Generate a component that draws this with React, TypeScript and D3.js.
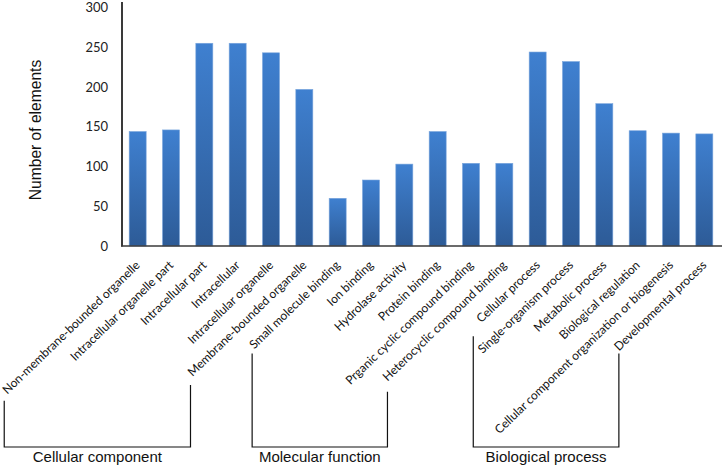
import React, { useEffect, useRef } from "react";
import * as d3 from "d3";

const categories = [
  "Non-membrane-bounded organelle",
  "Intracellular organelle part",
  "Intracellular part",
  "Intracellular",
  "Intracellular organelle",
  "Membrane-bounded organelle",
  "Small molecule binding",
  "Ion binding",
  "Hydrolase activity",
  "Protein binding",
  "Prganic cyclic compound binding",
  "Heterocyclic compound binding",
  "Cellular process",
  "Single-organism process",
  "Metabolic process",
  "Biological regulation",
  "Cellular component organization or biogenesis",
  "Developmental process",
];
const values = [144, 146, 255, 255, 243, 197, 60, 83, 103, 144, 104, 104, 244, 232, 179, 145, 142, 141];
const yTicks = [0, 50, 100, 150, 200, 250, 300];
const groupNames = ["Cellular component", "Molecular function", "Biological process"];
const groupFirst = [0, 6, 12];
const groupLast = [5, 11, 17];
const bracketGapLeft = [6, 4, 13];
const bracketGapRight = [8, 10, 2];
const bracketDxLeft = [-3, -2, -8];
const bracketDxRight = [-2, 0, 0];

const W = 722;
const H = 468;
const ANGLE = -44;

export default function App() {
  const ref = useRef<SVGSVGElement>(null);
  useEffect(() => {
    const svg = d3.select(ref.current);
    svg.selectAll("*").remove();

    const x = d3.scaleBand<number>().domain(d3.range(categories.length)).range([121, 721]).paddingInner(0.49).paddingOuter(0.245);
    const y = d3.scaleLinear().domain([0, 300]).range([246, 7.5]);

    const defs = svg.append("defs");
    const grad = defs.append("linearGradient").attr("id", "barGrad").attr("x1", 0).attr("y1", 0).attr("x2", 0).attr("y2", 1);
    grad.append("stop").attr("offset", "0%").attr("stop-color", "#3f80d0");
    grad.append("stop").attr("offset", "100%").attr("stop-color", "#2d5b97");

    svg.append("g").selectAll("rect").data(values).join("rect")
      .attr("x", (_, i) => x(i)!)
      .attr("y", (d) => y(d))
      .attr("width", x.bandwidth())
      .attr("height", (d) => y(0) - y(d))
      .attr("fill", "url(#barGrad)")
      .attr("stroke", "#7aa6dc")
      .attr("stroke-width", 0.6);

    // axes
    svg.append("line").attr("x1", 122).attr("x2", 122).attr("y1", 2).attr("y2", y(0) + 0.5)
      .attr("stroke", "#3a3a3a").attr("stroke-width", 2);
    svg.append("line").attr("x1", 121).attr("x2", W).attr("y1", y(0)).attr("y2", y(0))
      .attr("stroke", "#3a3a3a").attr("stroke-width", 1.5);

    svg.append("g").selectAll("text").data(yTicks).join("text")
      .attr("x", 108).attr("y", (d) => y(d)).attr("dy", "0.35em")
      .attr("text-anchor", "end")
      .style("font-family", "Lato, 'Liberation Sans', sans-serif").style("font-size", "13px").attr("fill", "#222")
      .text((d) => d);

    svg.append("text")
      .attr("transform", "translate(41,130) rotate(-90)")
      .attr("text-anchor", "middle")
      .style("font-family", "'Liberation Sans', Arial, sans-serif").style("font-size", "15.6px").attr("fill", "#111")
      .text("Number of elements");

    // category labels
    const rad = (ANGLE * Math.PI) / 180;
    const starts: { x: number; y: number }[] = [];
    const lab = svg.append("g");
    categories.forEach((c, i) => {
      const ax = x(i)! + x.bandwidth() / 2 + 3;
      const ay = 266;
      const t = lab.append("text")
        .attr("transform", `translate(${ax},${ay}) rotate(${ANGLE})`)
        .attr("text-anchor", "end")
        .style("font-family", "Lato, 'Liberation Sans', sans-serif").style("font-size", "12px").attr("fill", "#111")
        .text(c);
      const L = (t.node() as SVGTextElement).getComputedTextLength();
      starts.push({ x: ax - L * Math.cos(rad), y: ay - L * Math.sin(rad) });
    });

    // brackets
    const bottom = 447;
    groupNames.forEach((g, k) => {
      const s = starts[groupFirst[k]];
      const e = starts[groupLast[k]];
      const xl = s.x + bracketDxLeft[k];
      const xr = e.x + bracketDxRight[k];
      svg.append("path")
        .attr("d", `M${xl},${s.y + bracketGapLeft[k]}V${bottom}H${xr}V${e.y + bracketGapRight[k]}`)
        .attr("fill", "none").attr("stroke", "#111").attr("stroke-width", 1.2);
      svg.append("text")
        .attr("x", (xl + xr) / 2).attr("y", 462)
        .attr("text-anchor", "middle")
        .style("font-family", "'Liberation Sans', Arial, sans-serif").style("font-size", "15px").attr("fill", "#111")
        .text(g);
    });
  }, []);
  return (
    <svg ref={ref} width={W} height={H} style={{ position: "absolute", left: 0, top: 0, background: "#fff" }} />
  );
}
